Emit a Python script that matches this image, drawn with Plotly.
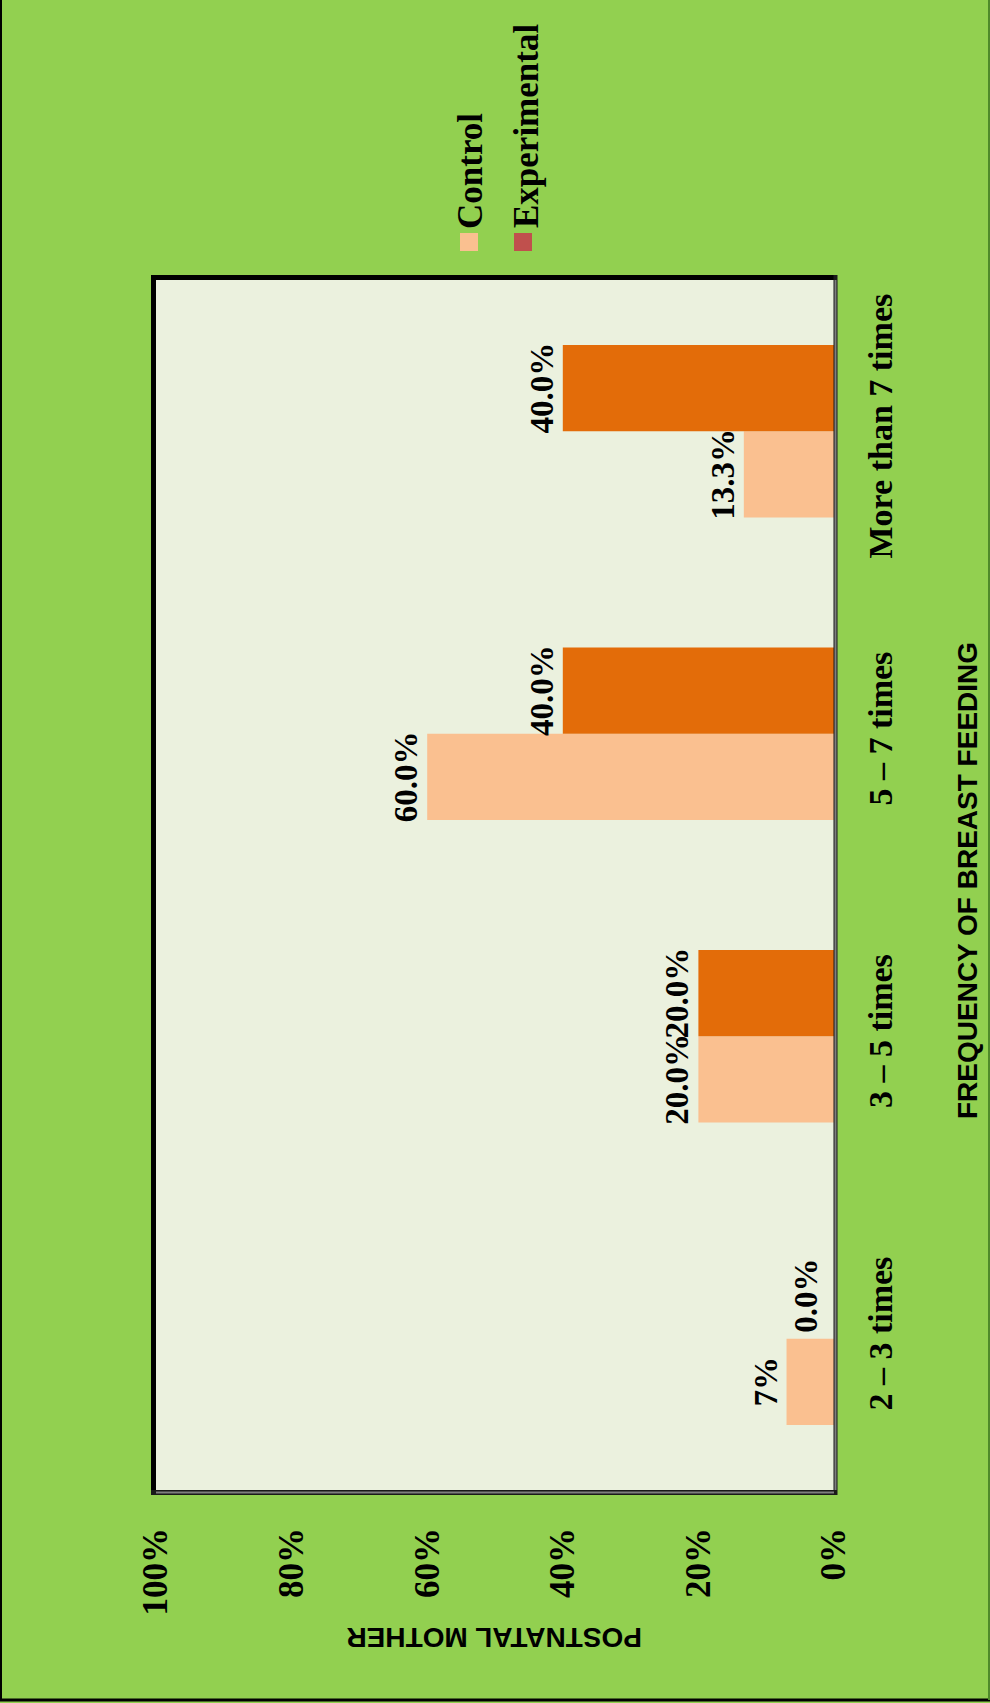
import plotly.graph_objects as go

# Data
categories = ["2 – 3 times", "3 – 5 times", "5 – 7 times", "More than 7 times"]
control = [7, 20.0, 60.0, 13.3]
experimental = [0.0, 20.0, 40.0, 40.0]
control_labels = ["7%", "20.0%", "60.0%", "13.3%"]
experimental_labels = ["0.0%", "20.0%", "40.0%", "40.0%"]
tick_values = [0, 20, 40, 60, 80, 100]
tick_labels = ["0%", "20%", "40%", "60%", "80%", "100%"]

W, H = 990, 1703
PL, PR, PT, PB = 156, 834, 280, 1490  # plot area in pixels
BAR_OFFSET = 43  # half a bar thickness, pixels


def px_x(x):
    return (x - PL) / (PR - PL)


def px_y(y):
    return (PB - y) / (PB - PT)


SERIF = "Liberation Serif"
SANS = "Liberation Sans"
LABEL_FONT = dict(family=SERIF, size=33, color="black", weight="bold")


def positions(values):
    # zero-length bars get their label as an annotation instead
    return ["none" if v == 0 else "outside" for v in values]


fig = go.Figure()
fig.add_trace(go.Bar(
    name="Control", y=categories, x=control, orientation="h",
    marker=dict(color="#FAC090", line=dict(width=0)),
    text=control_labels, textposition=positions(control), textangle=-90,
    textfont=LABEL_FONT, cliponaxis=False,
))
fig.add_trace(go.Bar(
    name="Experimental", y=categories, x=experimental, orientation="h",
    marker=dict(color="#E36C09", line=dict(width=0)),
    text=experimental_labels, textposition=positions(experimental), textangle=-90,
    textfont=LABEL_FONT, cliponaxis=False,
))

shapes = []
# plot frame: heavy black on left/top, grey double line on right/bottom
shapes.append(dict(type="line", xref="paper", yref="paper",
                   x0=px_x(153.5), x1=px_x(153.5), y0=px_y(275), y1=px_y(1495),
                   line=dict(color="black", width=5), layer="above"))
shapes.append(dict(type="line", xref="paper", yref="paper",
                   x0=px_x(151), x1=px_x(837), y0=px_y(277.5), y1=px_y(277.5),
                   line=dict(color="black", width=5), layer="above"))
shapes.append(dict(type="line", xref="paper", yref="paper",
                   x0=px_x(835.5), x1=px_x(835.5), y0=px_y(275), y1=px_y(1495),
                   line=dict(color="#1a1a1a", width=4), layer="above"))
shapes.append(dict(type="line", xref="paper", yref="paper",
                   x0=px_x(835.5), x1=px_x(835.5), y0=px_y(280), y1=px_y(1492),
                   line=dict(color="#7f7f7f", width=2), layer="above"))
shapes.append(dict(type="line", xref="paper", yref="paper",
                   x0=px_x(151), x1=px_x(837), y0=px_y(1492.5), y1=px_y(1492.5),
                   line=dict(color="#1a1a1a", width=5), layer="above"))
shapes.append(dict(type="line", xref="paper", yref="paper",
                   x0=px_x(156), x1=px_x(834), y0=px_y(1492.5), y1=px_y(1492.5),
                   line=dict(color="#7f7f7f", width=2), layer="above"))
# outer page border
shapes.append(dict(type="line", xref="paper", yref="paper",
                   x0=px_x(1), x1=px_x(1), y0=px_y(0), y1=px_y(1700),
                   line=dict(color="black", width=2)))
shapes.append(dict(type="line", xref="paper", yref="paper",
                   x0=px_x(0), x1=px_x(990), y0=px_y(1700), y1=px_y(1700),
                   line=dict(color="black", width=3)))
shapes.append(dict(type="line", xref="paper", yref="paper",
                   x0=px_x(989), x1=px_x(989), y0=px_y(0), y1=px_y(1700),
                   line=dict(color="#4f8a2a", width=2)))
# legend swatches
shapes.append(dict(type="rect", xref="paper", yref="paper",
                   x0=px_x(460), x1=px_x(478), y0=px_y(233), y1=px_y(251),
                   fillcolor="#FAC090", line=dict(width=0)))
shapes.append(dict(type="rect", xref="paper", yref="paper",
                   x0=px_x(514), x1=px_x(532), y0=px_y(233), y1=px_y(251),
                   fillcolor="#C0504D", line=dict(width=0)))

annotations = [
    dict(text="Control", x=px_x(470), y=px_y(171), xref="paper", yref="paper",
         showarrow=False, textangle=-90, xanchor="center", yanchor="middle",
         font=dict(family=SERIF, size=35, color="black", weight="bold")),
    dict(text="Experimental", x=px_x(526), y=px_y(126), xref="paper", yref="paper",
         showarrow=False, textangle=-90, xanchor="center", yanchor="middle",
         font=dict(family=SERIF, size=35, color="black", weight="bold")),
    dict(text="FREQUENCY OF BREAST FEEDING", x=px_x(967), y=px_y(881),
         xref="paper", yref="paper", showarrow=False, textangle=-90,
         xanchor="center", yanchor="middle",
         font=dict(family=SANS, size=28, color="black", weight="bold")),
    dict(text="POSTNATAL MOTHER", x=px_x(494), y=px_y(1637),
         xref="paper", yref="paper", showarrow=False, textangle=180,
         xanchor="center", yanchor="middle",
         font=dict(family=SANS, size=28, color="black", weight="bold")),
]

# labels for zero-length bars, placed just beyond the bar base
for values, labels, shift in ((control, control_labels, -BAR_OFFSET),
                              (experimental, experimental_labels, BAR_OFFSET)):
    for cat, v, lab in zip(categories, values, labels):
        if v == 0:
            annotations.append(dict(
                text=lab, x=v, y=cat, xref="x", yref="y", showarrow=False,
                textangle=-90, xanchor="center", yanchor="middle",
                xshift=-28, yshift=shift, font=LABEL_FONT,
            ))

fig.update_layout(
    width=W, height=H,
    margin=dict(l=PL, r=W - PR, t=PT, b=H - PB, pad=0),
    paper_bgcolor="#92D050",
    plot_bgcolor="#EBF1DE",
    barmode="group",
    bargap=0.43,
    bargroupgap=0,
    showlegend=False,
    uniformtext=dict(mode=False),
    shapes=shapes,
    annotations=annotations,
    xaxis=dict(
        range=[100, 0], tickvals=tick_values, ticktext=tick_labels,
        tickangle=-90, showgrid=False, zeroline=False, showline=False,
        ticks="", ticklabelstandoff=30,
        tickfont=dict(family=SERIF, size=35, color="black", weight="bold"),
    ),
    yaxis=dict(
        side="right", tickangle=-90, showgrid=False, zeroline=False,
        showline=False, ticks="", ticklabelstandoff=23,
        categoryorder="array", categoryarray=categories,
        tickfont=dict(family=SERIF, size=34, color="black", weight="bold"),
    ),
)

fig.write_html("out.html")
